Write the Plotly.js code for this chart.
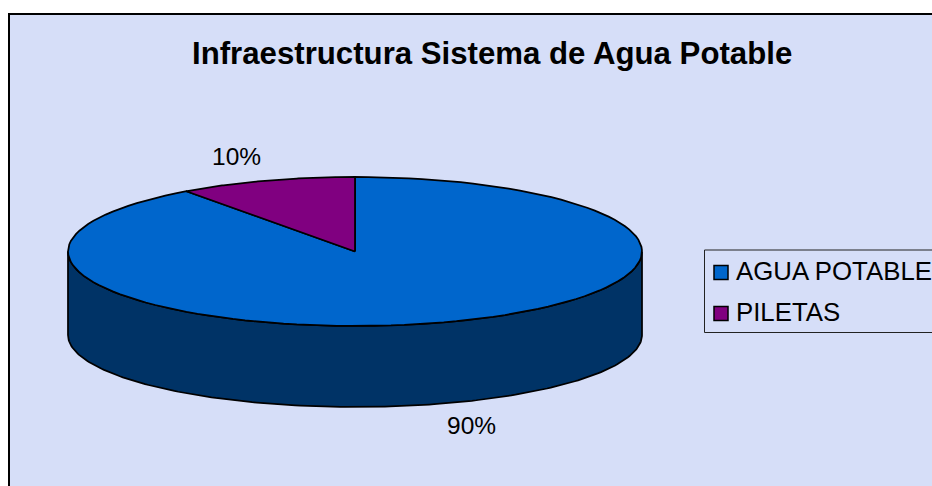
<!DOCTYPE html>
<html><head><meta charset="utf-8">
<script src="https://cdn.plot.ly/plotly-3.0.1.min.js"></script>
<style>html,body{margin:0;padding:0;background:#fff}#c{width:932px;height:486px}</style>
</head><body><div id="c"></div>
<script>
const chartTitle = "Infraestructura Sistema de Agua Potable";
const categories = ["AGUA POTABLE", "PILETAS"];
const values = [90, 10];
const topColors = ["#0066CC", "#800080"];
const sideColor = "#003366";
const panelColor = "#D6DEF8";

const F = "Liberation Sans, Arial, sans-serif";
const cx = 355, cy = 251.5, rx = 287, ry = 74.5, lowCy = 335, lowRy = 72;
const total = values.reduce((a, b) => a + b, 0);
const pt = (deg, c, r) => [cx + rx * Math.sin(deg * Math.PI / 180), c - r * Math.cos(deg * Math.PI / 180)];

const traces = [];
// side wall: visible front half of the cylinder
const sx = [], sy = [];
for (let d = 90; d <= 270; d += 1) { const p = pt(d, cy, ry); sx.push(p[0]); sy.push(p[1]); }
for (let d = 270; d >= 90; d -= 1) { const p = pt(d, lowCy, lowRy); sx.push(p[0]); sy.push(p[1]); }
sx.push(sx[0]); sy.push(sy[0]);
traces.push({x: sx, y: sy, mode: "lines", fill: "toself", fillcolor: sideColor,
  line: {color: "#000", width: 1.75}, showlegend: false, hoverinfo: "skip"});
// top slices
let start = 0;
values.forEach((v, i) => {
  const sweep = v / total * 360, xs = [cx], ys = [cy];
  for (let k = 0; k <= 120; k++) { const p = pt(start + sweep * k / 120, cy, ry); xs.push(p[0]); ys.push(p[1]); }
  xs.push(cx); ys.push(cy);
  traces.push({x: xs, y: ys, mode: "lines", fill: "toself", fillcolor: topColors[i],
    line: {color: "#000", width: 1.75}, showlegend: false, name: categories[i], hoverinfo: "name"});
  start += sweep;
});
// legend keys, drawn on the same axes
const legendRowY = [272.5, 313.5];
categories.forEach((c, i) => traces.push({x: [721], y: [legendRowY[i]], mode: "markers", name: c, showlegend: false,
  marker: {symbol: "square", size: 14, color: topColors[i], line: {color: "#000", width: 1.5}}}));

const layout = {
  width: 932, height: 486, margin: {l: 0, r: 0, t: 0, b: 0},
  paper_bgcolor: "#fff", plot_bgcolor: "#fff", showlegend: false,
  xaxis: {range: [0, 932], visible: false, fixedrange: true},
  yaxis: {range: [486, 0], visible: false, fixedrange: true},
  shapes: [
    {type: "rect", layer: "below", xref: "x", yref: "y", x0: 9, y0: 14, x1: 1000, y1: 560,
      fillcolor: panelColor, line: {color: "#000", width: 2}},
    {type: "rect", layer: "below", xref: "x", yref: "y", x0: 704.5, y0: 250, x1: 1000, y1: 332.5,
      fillcolor: panelColor, line: {color: "#222", width: 1}}
  ],
  annotations: [
    {x: 492, y: 53, xref: "x", yref: "y", text: "<b>" + chartTitle + "</b>", showarrow: false,
      font: {family: F, size: 31.2, color: "#000"}},
    {x: 236, y: 156, xref: "x", yref: "y", text: Math.round(values[1] / total * 100) + "%", showarrow: false,
      font: {family: F, size: 24.5, color: "#000"}},
    {x: 471, y: 425, xref: "x", yref: "y", text: Math.round(values[0] / total * 100) + "%", showarrow: false,
      font: {family: F, size: 24.5, color: "#000"}}
  ].concat(categories.map((c, i) => ({x: 734, y: legendRowY[i] - 2, xref: "x", yref: "y", xanchor: "left", text: c, showarrow: false,
      font: {family: F, size: 25.8, color: "#000"}})))
};
Plotly.newPlot("c", traces, layout, {displayModeBar: false, staticPlot: true});
</script></body></html>
